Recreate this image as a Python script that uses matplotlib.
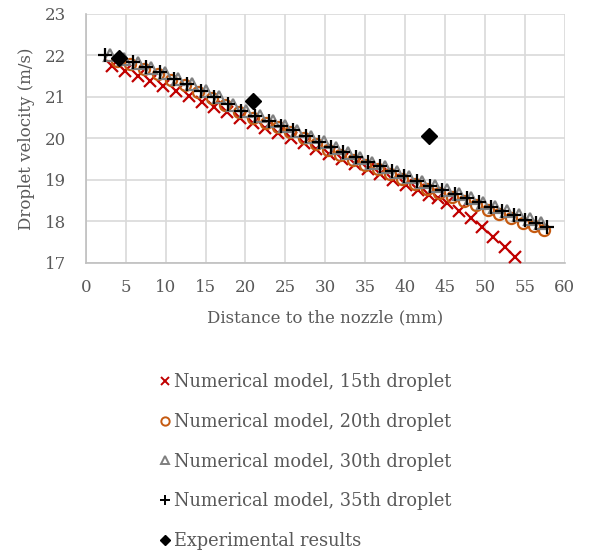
import numpy as np
import matplotlib.pyplot as plt
from matplotlib.lines import Line2D

# 15th droplet (red x)
x15 = [3.3, 4.9, 6.5, 8.1, 9.7, 11.3, 12.9, 14.5, 16.1, 17.7, 19.3, 20.9, 22.5,
       24.1, 25.7, 27.3, 28.9, 30.5, 32.1, 33.7, 35.3, 36.9, 38.5, 40.1, 41.6,
       43.0, 44.1, 45.2, 46.7, 48.2, 49.6, 51.0, 52.5, 53.8]
y15 = [21.75, 21.63, 21.51, 21.38, 21.26, 21.13, 21.01, 20.88, 20.76, 20.63,
       20.50, 20.38, 20.25, 20.13, 20.00, 19.88, 19.75, 19.63, 19.50, 19.38,
       19.25, 19.13, 19.00, 18.88, 18.76, 18.64, 18.55, 18.44, 18.24, 18.08,
       17.86, 17.62, 17.38, 17.14]

# 20th droplet (orange circles)
x20 = [3.9, 5.6, 7.3, 9.0, 10.7, 12.4, 14.1, 15.8, 17.5, 19.2, 20.9, 22.6, 24.1,
       25.6, 27.3, 28.9, 30.4, 31.9, 33.5, 35.0, 36.6, 38.1, 39.6, 41.2, 42.8,
       44.3, 45.9, 47.4, 48.9, 50.4, 51.8, 53.3, 54.7, 56.1, 57.4]
y20 = [21.86, 21.78, 21.66, 21.55, 21.41, 21.28, 21.11, 20.97, 20.79, 20.63,
       20.50, 20.38, 20.26, 20.14, 20.00, 19.86, 19.72, 19.60, 19.48, 19.36,
       19.25, 19.13, 19.01, 18.89, 18.77, 18.68, 18.58, 18.48, 18.38, 18.27,
       18.17, 18.07, 17.97, 17.89, 17.80]

# 30th droplet (grey triangles)
x30 = [3.0, 4.8, 6.5, 8.2, 9.9, 11.6, 13.3, 15.0, 16.7, 18.4, 20.1, 21.8, 23.5,
       25.0, 26.5, 28.2, 29.8, 31.3, 32.8, 34.4, 35.9, 37.5, 39.0, 40.5, 42.1,
       43.7, 45.2, 46.8, 48.3, 49.8, 51.3, 52.7, 54.2, 55.6, 57.0]
y30 = [22.00, 21.92, 21.82, 21.70, 21.58, 21.43, 21.30, 21.13, 20.99, 20.81,
       20.65, 20.53, 20.41, 20.29, 20.18, 20.04, 19.90, 19.76, 19.64, 19.52,
       19.41, 19.30, 19.18, 19.06, 18.94, 18.84, 18.75, 18.65, 18.55, 18.45,
       18.34, 18.24, 18.14, 18.05, 17.97]

# 35th droplet (black plus)
x35 = [2.4, 4.2, 5.9, 7.6, 9.3, 11.0, 12.7, 14.4, 16.1, 17.8, 19.5, 21.2, 22.9,
       24.4, 25.9, 27.6, 29.2, 30.7, 32.2, 33.8, 35.3, 36.9, 38.4, 39.9, 41.5,
       43.1, 44.6, 46.2, 47.7, 49.2, 50.7, 52.1, 53.6, 55.0, 56.4, 57.8]
y35 = [22.00, 21.92, 21.84, 21.72, 21.60, 21.44, 21.32, 21.14, 21.00, 20.82,
       20.66, 20.54, 20.42, 20.30, 20.20, 20.06, 19.92, 19.78, 19.66, 19.54,
       19.42, 19.32, 19.20, 19.08, 18.96, 18.84, 18.76, 18.66, 18.56, 18.46,
       18.34, 18.24, 18.14, 18.04, 17.96, 17.86]

# experimental
x_exp = [4.2, 21.0, 43.0]
y_exp = [21.93, 20.90, 20.05]

labels = ['Numerical model, 15th droplet', 'Numerical model, 20th droplet',
          'Numerical model, 30th droplet', 'Numerical model, 35th droplet',
          'Experimental results']

plt.rcParams['font.family'] = ['DejaVu Serif']
txt = '#595959'

fig = plt.figure(figsize=(6.08, 5.52), dpi=100)
ax = fig.add_axes([0.141, 0.524, 0.788, 0.451])

ax.plot(x15, y15, ls='none', marker='x', color='#C00000', ms=8, mew=1.6, zorder=3)
ax.plot(x20, y20, ls='none', marker='o', mfc='none', mec='#C55A11', ms=8, mew=1.6, zorder=3)
ax.plot(x30, y30, ls='none', marker='^', mfc='none', mec='#7F7F7F', ms=9, mew=1.6, zorder=4)
ax.plot(x35, y35, ls='none', marker='+', color='black', ms=10, mew=1.6, zorder=5)
ax.plot(x_exp, y_exp, ls='none', marker='D', color='black', ms=8, zorder=6)

ax.set_xlim(0, 60)
ax.set_ylim(17, 23)
ax.set_xticks(np.arange(0, 61, 5))
ax.set_yticks(np.arange(17, 24, 1))
ax.grid(True, color='#D9D9D9', lw=1.2, zorder=0)
ax.set_axisbelow(True)
for s in ['top', 'right']:
    ax.spines[s].set_visible(False)
for s in ['left', 'bottom']:
    ax.spines[s].set_color('#BFBFBF')
    ax.spines[s].set_linewidth(1.2)
ax.tick_params(length=0, labelsize=12, colors=txt)
ax.tick_params(axis='x', pad=12)
ax.tick_params(axis='y', pad=14)
ax.set_xlabel('Distance to the nozzle (mm)', fontsize=12, color=txt, labelpad=9)
ax.set_ylabel('Droplet velocity (m/s)', fontsize=12, color=txt, labelpad=7)

handles = [
    Line2D([], [], ls='none', marker='x', color='#C00000', ms=6, mew=1.4),
    Line2D([], [], ls='none', marker='o', mfc='none', mec='#C55A11', ms=6, mew=1.4),
    Line2D([], [], ls='none', marker='^', mfc='none', mec='#7F7F7F', ms=6, mew=1.4),
    Line2D([], [], ls='none', marker='+', color='black', ms=7, mew=1.4),
    Line2D([], [], ls='none', marker='D', color='black', ms=5.5),
]
leg = fig.legend(handles, labels, loc='upper left', bbox_to_anchor=(0.262, 0.324),
                 frameon=False, fontsize=12.8, handlelength=0.6, handletextpad=0.2,
                 labelspacing=1.22, borderpad=0, borderaxespad=0)
for t in leg.get_texts():
    t.set_color(txt)

fig.savefig('out.png', dpi=100)
